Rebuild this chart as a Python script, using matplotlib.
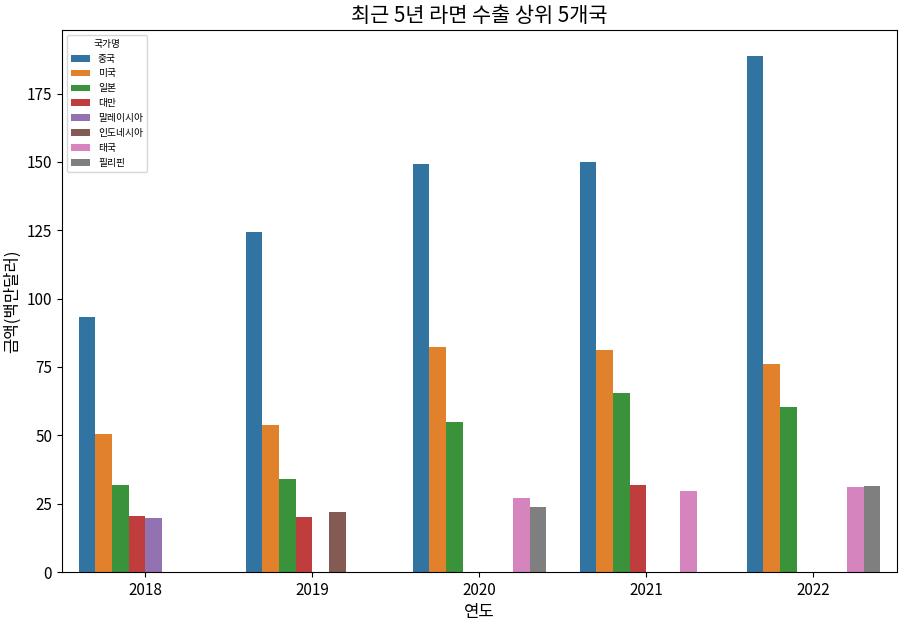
import matplotlib
matplotlib.use("Agg")
import matplotlib.pyplot as plt
import numpy as np

plt.rcParams['font.family'] = ['Noto Sans CJK KR', 'DejaVu Sans']
plt.rcParams['axes.unicode_minus'] = False

years = ['2018', '2019', '2020', '2021', '2022']
countries = ['중국', '미국', '일본', '대만', '말레이시아', '인도네시아', '태국', '필리핀']
# values per country across years (None = not in top 5)
china = [93.3, 124.3, 149.1, 149.8, 188.8]
usa = [50.3, 53.6, 82.4, 81.3, 76.2]
japan = [31.7, 33.9, 54.7, 65.3, 60.5]
taiwan = [20.4, 20.1, None, 31.7, None]
malaysia = [19.7, None, None, None, None]
indonesia = [None, 21.9, None, None, None]
thailand = [None, None, 27.0, 29.5, 31.0]
philippines = [None, None, 23.7, None, 31.4]
series = [china, usa, japan, taiwan, malaysia, indonesia, thailand, philippines]

colors = ['#3274a1', '#e1812c', '#3a923a', '#c03d3e', '#9372b2', '#845b53', '#d684bd', '#7f7f7f']

fig = plt.figure(figsize=(9.06, 6.2), dpi=100)
ax = fig.add_axes([0.0684, 0.0774, 0.9216, 0.8742])

n = len(countries)
w = 0.8 / n
x = np.arange(len(years))
for i, (name, vals, c) in enumerate(zip(countries, series, colors)):
    xs = [x[j] - 0.4 + w * (i + 0.5) for j in range(len(years)) if vals[j] is not None]
    vs = [v for v in vals if v is not None]
    ax.bar(xs, vs, width=w, color=c, label=name)

ax.set_xticks(x)
ax.set_xticklabels(years)
ax.set_xlim(-0.5, len(years) - 0.5)
ax.tick_params(labelsize=11)
ax.set_xlabel('연도', fontsize=12)
ax.set_ylabel('금액(백만달러)', fontsize=12)
ax.set_title('최근 5년 라면 수출 상위 5개국', fontsize=15)
leg = ax.legend(title='국가명', loc='upper left', fontsize=7, title_fontsize=7)

fig.savefig('out.png', dpi=100)
